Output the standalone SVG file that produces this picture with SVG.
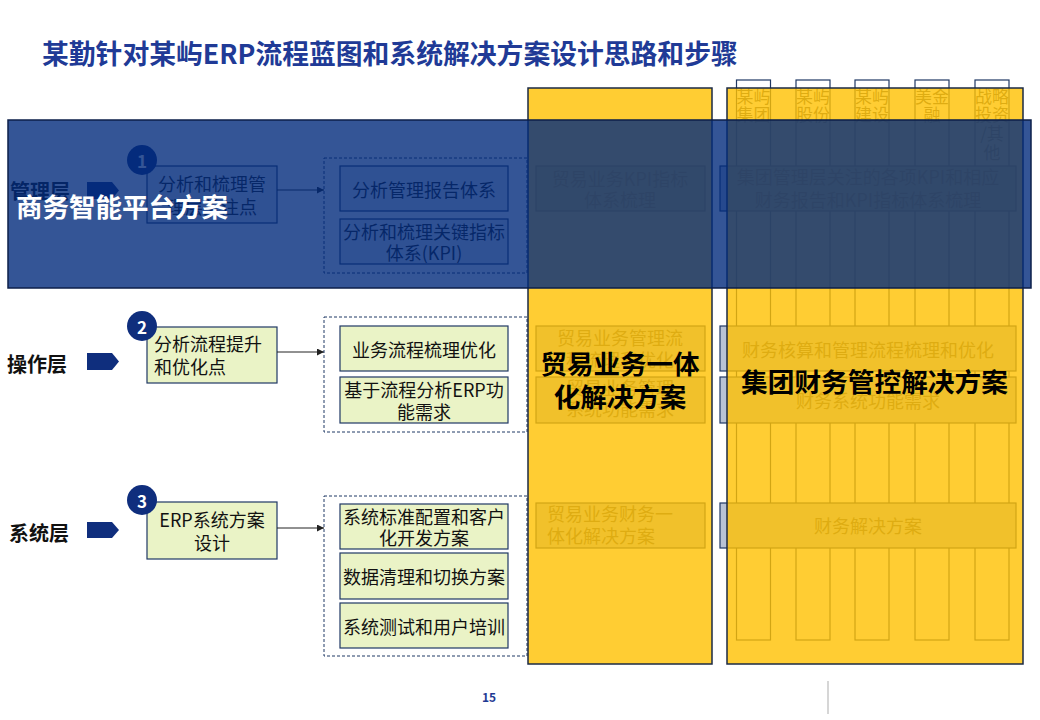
<svg xmlns="http://www.w3.org/2000/svg" width="1040" height="720" viewBox="0 0 1040 720">
<defs>
<style>
text{font-family:"Noto Sans CJK SC","Liberation Sans",sans-serif;dominant-baseline:central}
.title{font-size:26.8px;font-weight:700;fill:#203A96}
.lay{font-size:20px;font-weight:700;fill:#111}
.pent{fill:#0F2E7D}
.circ{fill:#0F2E7D}
.num{font-size:17px;font-weight:700;fill:#fff;text-anchor:middle}
.box{fill:#EAF3C6;stroke:#1F3864;stroke-width:1.2}
.mbox{fill:#E4E8F0;stroke:#1F3864;stroke-width:1.2}
.bt{font-size:18px;fill:#111}
.mt{font-size:18px;fill:#1a1a1a}
.c{text-anchor:middle}
.dash{fill:none;stroke:#1F3864;stroke-width:1;stroke-dasharray:3 2}
.conn{stroke:#222;stroke-width:1;fill:none}
.col{fill:#fff;stroke:#1F3864;stroke-width:1.2}
.ct{font-size:17px;fill:#5a5a5a;text-anchor:middle}
.rbox{fill:#B8C2D4;stroke:#1F3864;stroke-width:1.2}
.rt{font-size:18px;fill:#5a5a5a}
.yel{fill:#FFC000;fill-opacity:0.8;stroke:#1B2A44;stroke-width:1.5}
.blue{fill:#012A7C;fill-opacity:0.8;stroke:#0D1F4A;stroke-width:1.5}
.big{font-size:26.5px;font-weight:700;text-anchor:middle;fill:#000}
</style>
<marker id="ah" viewBox="0 0 10 10" refX="10" refY="5" markerWidth="7" markerHeight="7" orient="auto" markerUnits="userSpaceOnUse"><path d="M0,0 L10,5 L0,10 z" fill="#222"/></marker>
</defs>
<rect width="1040" height="720" fill="#fff"/>
<text class="title" x="42" y="52">某勤针对某屿ERP流程蓝图和系统解决方案设计思路和步骤</text>

<!-- layer labels -->
<g id="layer-mgmt">
<text class="lay" x="10" y="190">管理层</text>
<polygon class="pent" points="87,182 112,182 119,190.5 112,199 87,199"/>
</g>
<g id="layer-ops">
<text class="lay" x="7" y="363">操作层</text>
<polygon class="pent" points="87,353 112,353 119,361.5 112,370 87,370"/>
</g>
<g id="layer-sys">
<text class="lay" x="9" y="532">系统层</text>
<polygon class="pent" points="87,522 112,522 119,530 112,538 87,538"/>
</g>

<!-- step boxes -->
<g id="step1">
<rect class="mbox" x="147" y="166" width="130" height="57"/>
<text class="mt c" x="212" y="183">分析和梳理管</text>
<text class="mt c" x="212" y="206">理层关注点</text>
<circle class="circ" cx="142" cy="160" r="15"/>
<text class="num" x="142" y="160">1</text>
</g>
<g id="step2">
<rect class="box" x="147" y="327" width="130" height="56"/>
<text class="bt" x="154" y="343">分析流程提升</text>
<text class="bt" x="154" y="366">和优化点</text>
<circle class="circ" cx="142" cy="326" r="15"/>
<text class="num" x="142" y="326">2</text>
</g>
<g id="step3">
<rect class="box" x="147" y="502" width="130" height="57"/>
<text class="bt c" x="212" y="519">ERP系统方案</text>
<text class="bt c" x="212" y="542">设计</text>
<circle class="circ" cx="142" cy="500" r="15"/>
<text class="num" x="142" y="500">3</text>
</g>

<!-- connectors -->
<g id="connectors">
<line class="conn" x1="277" y1="190" x2="324" y2="190" marker-end="url(#ah)"/>
<line class="conn" x1="277" y1="352" x2="324" y2="352" marker-end="url(#ah)"/>
<line class="conn" x1="277" y1="528" x2="324" y2="528" marker-end="url(#ah)"/>
</g>

<!-- dashed groups -->
<g id="group-mgmt">
<rect class="dash" x="324" y="158" width="203" height="115"/>
<rect class="mbox" x="340" y="166" width="168" height="45"/>
<text class="mt c" x="424" y="188.5">分析管理报告体系</text>
<rect class="mbox" x="340" y="219" width="168" height="45"/>
<text class="mt c" x="424" y="231">分析和梳理关键指标</text>
<text class="mt c" x="424" y="252">体系(KPI)</text>
</g>
<g id="group-ops">
<rect class="dash" x="324" y="317" width="203" height="115"/>
<rect class="box" x="340" y="326" width="168" height="45"/>
<text class="bt c" x="424" y="348.5">业务流程梳理优化</text>
<rect class="box" x="340" y="377" width="168" height="46"/>
<text class="bt c" x="424" y="389">基于流程分析ERP功</text>
<text class="bt c" x="424" y="411">能需求</text>
</g>
<g id="group-sys">
<rect class="dash" x="324" y="496" width="203" height="160"/>
<rect class="box" x="340" y="504" width="168" height="45"/>
<text class="bt c" x="424" y="516">系统标准配置和客户</text>
<text class="bt c" x="424" y="537">化开发方案</text>
<rect class="box" x="340" y="553" width="168" height="46"/>
<text class="bt c" x="424" y="576">数据清理和切换方案</text>
<rect class="box" x="340" y="603" width="168" height="45"/>
<text class="bt c" x="424" y="625.5">系统测试和用户培训</text>
</g>

<!-- entity columns -->
<g id="columns">
<rect class="col" x="736.5" y="80" width="34" height="560"/>
<text class="ct" x="753.5" y="95">某屿</text><text class="ct" x="753.5" y="113">集团</text>
<rect class="col" x="796" y="80" width="34" height="560"/>
<text class="ct" x="813" y="95">某屿</text><text class="ct" x="813" y="113">股份</text>
<rect class="col" x="855" y="80" width="34" height="560"/>
<text class="ct" x="872" y="95">某屿</text><text class="ct" x="872" y="113">建设</text>
<rect class="col" x="915" y="80" width="34" height="560"/>
<text class="ct" x="932" y="95">美金</text><text class="ct" x="932" y="113">融</text>
<rect class="col" x="975" y="80" width="34" height="560"/>
<text class="ct" x="992" y="95">战略</text><text class="ct" x="992" y="113">投资</text><text class="ct" x="992" y="132">/其</text><text class="ct" x="992" y="151">他</text>
</g>

<!-- right solution boxes -->
<g id="trade-boxes">
<rect class="rbox" x="536" y="166" width="169" height="45"/>
<text class="rt c" x="620" y="178">贸易业务KPI指标</text>
<text class="rt c" x="620" y="199">体系梳理</text>
<rect class="rbox" x="536" y="326" width="169" height="45"/>
<text class="rt c" x="620" y="337">贸易业务管理流</text>
<text class="rt c" x="620" y="359">程梳理和优化</text>
<rect class="rbox" x="536" y="377" width="169" height="46"/>
<text class="rt c" x="620" y="387">贸易业务管理</text>
<text class="rt c" x="620" y="408">系统功能需求</text>
<rect class="rbox" x="536" y="503" width="169" height="45"/>
<text class="rt" x="547" y="513">贸易业务财务一</text>
<text class="rt" x="547" y="535">体化解决方案</text>
</g>
<g id="finance-boxes">
<rect class="rbox" x="720" y="166" width="296" height="45"/>
<text class="rt c" x="868" y="176">集团管理层关注的各项KPI和相应</text>
<text class="rt c" x="868" y="199">财务报告和KPI指标体系梳理</text>
<rect class="rbox" x="720" y="326" width="296" height="45"/>
<text class="rt c" x="868" y="349">财务核算和管理流程梳理和优化</text>
<rect class="rbox" x="720" y="377" width="296" height="46"/>
<text class="rt c" x="868" y="400">财务系统功能需求</text>
<rect class="rbox" x="720" y="503" width="296" height="45"/>
<text class="rt c" x="868" y="525">财务解决方案</text>
</g>

<!-- overlays -->
<g id="trade-panel">
<rect class="yel" x="528" y="88" width="184" height="576"/>
</g>
<g id="finance-panel">
<rect class="yel" x="727" y="88" width="296" height="576"/>
</g>
<g id="bi-panel">
<rect class="blue" x="8" y="120" width="1023" height="168"/>
<text x="122" y="205" style="font-size:26.5px;font-weight:700;fill:#fff;text-anchor:middle">商务智能平台方案</text>
</g>
<g id="trade-label">
<text class="big" x="620" y="362">贸易业务一体</text>
<text class="big" x="620" y="395">化解决方案</text>
</g>
<g id="finance-label">
<text class="big" x="874.5" y="380" style="font-size:26.7px">集团财务管控解决方案</text>
</g>

<text x="489" y="696" style="font-size:12px;font-weight:700;fill:#1F3A93;text-anchor:middle">15</text>
<line x1="828" y1="681" x2="828" y2="714" stroke="#BBBBBB" stroke-width="1.2"/>
</svg>
